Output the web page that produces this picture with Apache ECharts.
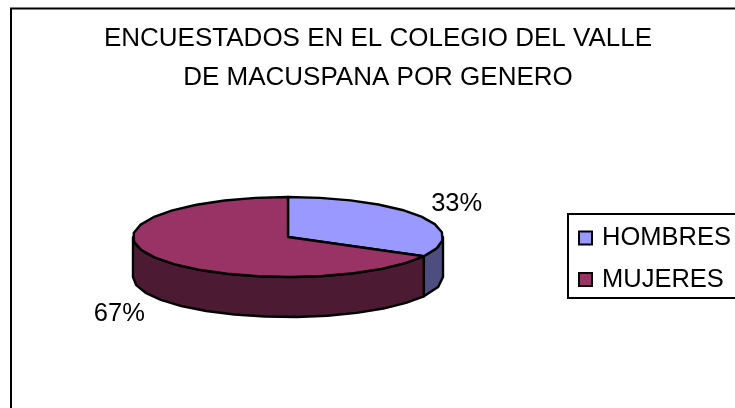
<!DOCTYPE html>
<html>
<head>
<meta charset="utf-8">
<style>
  html, body { margin: 0; padding: 0; background: #fff; }
  #chart { width: 735px; height: 408px; }
</style>
</head>
<body>
<div id="chart"></div>
<script src="https://cdn.jsdelivr.net/npm/echarts@6/dist/echarts.min.js"></script>
<script>
  var titleLines = ['ENCUESTADOS EN EL COLEGIO DEL VALLE', 'DE MACUSPANA POR GENERO'];
  var categories = ['HOMBRES', 'MUJERES'];
  var values = [33, 67];
  var topColors = ['#9999FF', '#993366'];
  var sideColors = ['#4D4D80', '#4D1A33'];

  var total = values.reduce(function (a, b) { return a + b; }, 0);
  // pie geometry
  var cx = 288, cy = 237, rx = 155, ry = 40, depth = 40;
  var STEP = Math.PI / 15; // coarse step, the original rim is faceted

  function rim(angle, drop) {
    // angle measured clockwise from 12 o'clock
    return [cx + rx * Math.sin(angle), cy - ry * Math.cos(angle) + (drop || 0)];
  }

  function arcPoints(a0, a1, drop) {
    var pts = [];
    var n = Math.max(1, Math.round((a1 - a0) / STEP));
    for (var i = 0; i <= n; i++) {
      pts.push(rim(a0 + (a1 - a0) * i / n, drop));
    }
    return pts;
  }

  function renderSlice(index) {
    return function (params, api) {
      var before = 0;
      for (var i = 0; i < index; i++) before += values[i];
      var a0 = before / total * Math.PI * 2;
      var a1 = (before + api.value(0)) / total * Math.PI * 2;
      var children = [];
      var lineStyle = { stroke: '#000', lineWidth: 2.4, lineJoin: 'round' };

      // side wall, only the part facing us (90deg .. 270deg)
      var s0 = Math.max(a0, Math.PI / 2), s1 = Math.min(a1, Math.PI * 3 / 2);
      if (s1 > s0) {
        var side = arcPoints(s0, s1, 0).concat(arcPoints(s0, s1, depth).reverse());
        children.push({
          type: 'polygon',
          shape: { points: side },
          style: Object.assign({ fill: sideColors[index] }, lineStyle)
        });
      }
      // top
      var top = [[cx, cy]].concat(arcPoints(a0, a1, 0));
      children.push({
        type: 'polygon',
        shape: { points: top },
        style: Object.assign({ fill: topColors[index] }, lineStyle)
      });
      // percent label
      var mid = (a0 + a1) / 2;
      var lx = cx + 196 * Math.sin(mid);
      var ly = cy - 65 * Math.cos(mid) + (Math.cos(mid) < 0 ? depth + 4 : 0);
      children.push({
        type: 'text',
        style: {
          text: Math.round(api.value(0) / total * 100) + '%',
          x: lx,
          y: ly,
          align: 'center',
          verticalAlign: 'middle',
          font: '25.5px "Liberation Sans", Arial, sans-serif',
          fill: '#000'
        }
      });
      return { type: 'group', children: children };
    };
  }

  var chart = echarts.init(document.getElementById('chart'), null, { renderer: 'canvas' });
  var option = {
    animation: false,
    backgroundColor: '#fff',
    textStyle: { fontFamily: '"Liberation Sans", Arial, sans-serif' },
    title: {
      text: titleLines.join('\n'),
      left: 378,
      top: 19,
      padding: 0,
      textAlign: 'center',
      textStyle: { fontSize: 26, fontWeight: 'normal', color: '#000', lineHeight: 39 }
    },
    legend: {
      orient: 'vertical',
      left: 568,
      top: 214,
      padding: [11, 30, 5.5, 10],
      data: categories,
      icon: 'rect',
      itemWidth: 13,
      itemHeight: 13,
      itemGap: 15.5,
      borderColor: '#000',
      borderWidth: 2,
      itemStyle: { borderColor: '#000', borderWidth: 2 },
      textStyle: { fontSize: 25.5, color: '#000', padding: [0, 0, 0, 5] }
    },
    graphic: [{
      type: 'polyline',
      silent: true,
      shape: { points: [[11, 420], [11, 8.5], [750, 8.5]] },
      style: { stroke: '#000', lineWidth: 2, fill: null }
    }],
    series: categories.map(function (name, i) {
      return {
        type: 'custom',
        name: name,
        coordinateSystem: 'none',
        silent: true,
        itemStyle: { color: topColors[i] },
        data: [[values[i]]],
        renderItem: renderSlice(i)
      };
    })
  };
  chart.setOption(option);
</script>
</body>
</html>
